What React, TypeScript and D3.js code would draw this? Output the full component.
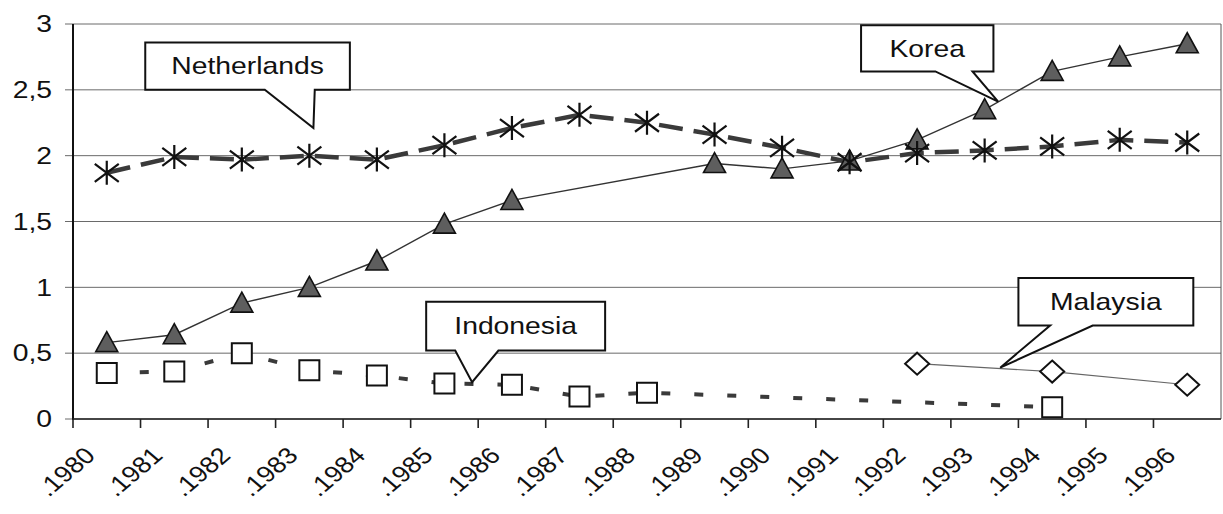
import React, { useEffect, useRef } from 'react';
import * as d3 from 'd3';

// Values (comma decimals on the y axis)
const years = ['1980', '1981', '1982', '1983', '1984', '1985', '1986', '1987', '1988', '1989', '1990', '1991', '1992', '1993', '1994', '1995', '1996'];
const netherlands = [1.87, 1.99, 1.97, 2.0, 1.97, 2.08, 2.21, 2.31, 2.25, 2.16, 2.06, 1.95, 2.02, 2.04, 2.07, 2.12, 2.1];
const korea = [0.58, 0.64, 0.88, 1.0, 1.2, 1.48, 1.66, null, null, 1.94, 1.9, 1.96, 2.12, 2.35, 2.64, 2.75, 2.85];
const indonesia = [0.35, 0.36, 0.5, 0.37, 0.33, 0.27, 0.26, 0.17, 0.2, null, null, null, null, null, 0.09, null, null];
const malaysia = [null, null, null, null, null, null, null, null, null, null, null, null, 0.42, null, 0.36, null, 0.26];
const yTicks = [0, 0.5, 1, 1.5, 2, 2.5, 3];

// callouts in data units: x as band index (point i sits at i + 0.5), y as value
const callouts = [
  { label: 'Netherlands', box: [1.07, 4.1, 2.86, 2.5], base: [2.84, 3.58], tip: [3.56, 2.21] },
  { label: 'Indonesia', box: [5.23, 7.88, 0.89, 0.52], base: [5.66, 6.3], tip: [5.91, 0.28] },
  { label: 'Korea', box: [11.67, 13.63, 2.99, 2.64], base: [12.77, 13.32], tip: [13.7, 2.41] },
  { label: 'Malaysia', box: [14.0, 16.59, 1.07, 0.71], base: [14.47, 15.1], tip: [13.73, 0.39] },
];

const W = 1223;
const H = 514;
const FONT = '"Liberation Sans", Arial, sans-serif';
const STRETCH = 1.18; // the scan's lettering is wider than plain Arial

export default function App() {
  const svgRef = useRef<SVGSVGElement | null>(null);

  useEffect(() => {
    document.body.style.margin = '0';
    const svg = d3.select(svgRef.current);
    svg.selectAll('*').remove();

    const left = 73, right = 1221, top = 24, bottom = 419;
    const x = d3.scaleBand().domain(years).range([left, right]).padding(0);
    const xi = d3.scaleLinear().domain([0, years.length]).range([left, right]);
    const y = d3.scaleLinear().domain([0, 3]).range([bottom, top]);
    const cx = (i: number) => (x(years[i]) as number) + x.bandwidth() / 2;

    // gridlines
    svg.append('g').selectAll('line').data(yTicks).join('line')
      .attr('x1', left - 8).attr('x2', right)
      .attr('y1', (d) => y(d)).attr('y2', (d) => y(d))
      .attr('stroke', '#6a6a6a').attr('stroke-width', 1);
    // right border
    svg.append('line').attr('x1', right).attr('x2', right).attr('y1', top).attr('y2', bottom)
      .attr('stroke', '#555').attr('stroke-width', 1);

    // y axis labels
    svg.append('g').selectAll('text').data(yTicks).join('text')
      .attr('transform', (d) => `translate(${left - 21},${y(d)}) scale(${STRETCH},1)`)
      .attr('text-anchor', 'end').attr('dominant-baseline', 'central')
      .attr('font-family', FONT).attr('font-size', 24).attr('fill', '#111')
      .text((d) => String(d).replace('.', ','));

    // series lines
    const lineFor = (vals: (number | null)[]) => {
      const pts = vals.map((v, i) => [i, v] as [number, number | null]).filter((p) => p[1] !== null) as [number, number][];
      return d3.line<[number, number]>().x((p) => cx(p[0])).y((p) => y(p[1]))(pts);
    };
    svg.append('path').attr('d', lineFor(korea)).attr('fill', 'none').attr('stroke', '#333').attr('stroke-width', 1.4);
    svg.append('path').attr('d', lineFor(malaysia)).attr('fill', 'none').attr('stroke', '#666').attr('stroke-width', 1.2);
    svg.append('path').attr('d', lineFor(netherlands)).attr('fill', 'none').attr('stroke', '#3a3a3a')
      .attr('stroke-width', 4.5).attr('stroke-dasharray', '24 11');
    svg.append('path').attr('d', lineFor(indonesia)).attr('fill', 'none').attr('stroke', '#3a3a3a')
      .attr('stroke-width', 4).attr('stroke-dasharray', '9 24');

    const defined = (vals: (number | null)[]) => vals.map((v, i) => ({ i, v })).filter((d) => d.v !== null) as { i: number; v: number }[];

    // markers
    svg.append('g').selectAll('path').data(defined(indonesia)).join('path')
      .attr('transform', (d) => `translate(${cx(d.i)},${y(d.v)})`)
      .attr('d', 'M-10,-10H10V10H-10Z').attr('fill', '#fff').attr('stroke', '#111').attr('stroke-width', 2);
    svg.append('g').selectAll('path').data(defined(malaysia)).join('path')
      .attr('transform', (d) => `translate(${cx(d.i)},${y(d.v)})`)
      .attr('d', 'M0,-11L12,0L0,11L-12,0Z').attr('fill', '#fff').attr('stroke', '#111').attr('stroke-width', 2);
    svg.append('g').selectAll('path').data(defined(korea)).join('path')
      .attr('transform', (d) => `translate(${cx(d.i)},${y(d.v)})`)
      .attr('d', 'M0,-11L11,9L-11,9Z').attr('fill', '#5e5e5e').attr('stroke', '#111').attr('stroke-width', 1.6);
    svg.append('g').selectAll('path').data(defined(netherlands)).join('path')
      .attr('transform', (d) => `translate(${cx(d.i)},${y(d.v)})`)
      .attr('d', 'M0,-12V12M-12,-9L12,9M-12,9L12,-9').attr('fill', 'none').attr('stroke', '#111').attr('stroke-width', 2.2);

    // axes lines + ticks
    svg.append('line').attr('x1', left).attr('x2', left).attr('y1', top).attr('y2', bottom + 1)
      .attr('stroke', '#111').attr('stroke-width', 2);
    svg.append('line').attr('x1', left).attr('x2', right).attr('y1', bottom).attr('y2', bottom)
      .attr('stroke', '#222').attr('stroke-width', 1.6);
    svg.append('g').selectAll('line').data(d3.range(years.length)).join('line')
      .attr('x1', (i) => x(years[i]) as number).attr('x2', (i) => x(years[i]) as number)
      .attr('y1', bottom).attr('y2', bottom + 9).attr('stroke', '#222').attr('stroke-width', 1.6);

    // x labels, rotated
    svg.append('g').selectAll('text').data(years).join('text')
      .attr('transform', (d, i) => `translate(${cx(i) - 10},${bottom + 38}) scale(${STRETCH},1) rotate(-45)`)
      .attr('text-anchor', 'end')
      .attr('font-family', FONT).attr('font-size', 23).attr('fill', '#111')
      .text((d) => '.' + d);

    // callouts
    const cg = svg.append('g');
    callouts.forEach((c) => {
      const [bx0, bx1, byT, byB] = c.box;
      const x0 = xi(bx0), x1 = xi(bx1), yT = y(byT), yB = y(byB);
      const pa = xi(c.base[0]), pb = xi(c.base[1]);
      const tx = xi(c.tip[0]), ty = y(c.tip[1]);
      const d = `M${x0},${yT}H${x1}V${yB}H${pb}L${tx},${ty}L${pa},${yB}H${x0}Z`;
      cg.append('path').attr('d', d).attr('fill', '#fff').attr('stroke', '#111').attr('stroke-width', 2).attr('stroke-linejoin', 'miter');
      cg.append('text')
        .attr('transform', `translate(${(x0 + x1) / 2},${(yT + yB) / 2}) scale(${STRETCH},1)`)
        .attr('text-anchor', 'middle').attr('dominant-baseline', 'central')
        .attr('font-family', FONT).attr('font-size', 24).attr('fill', '#111')
        .text(c.label);
    });
  }, []);

  return <svg ref={svgRef} width={W} height={H} style={{ display: 'block', background: '#fff' }} />;
}
